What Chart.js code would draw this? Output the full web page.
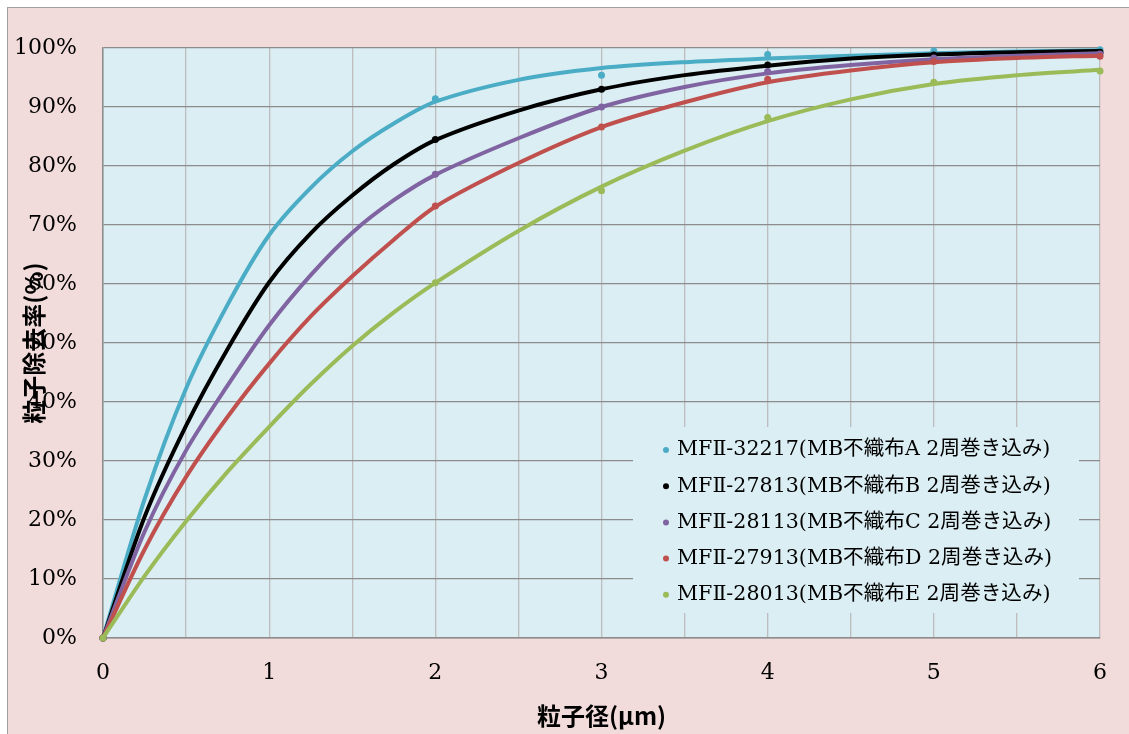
<!DOCTYPE html>
<html>
<head>
<meta charset="utf-8">
<script src="https://cdn.jsdelivr.net/npm/chart.js@4/dist/chart.umd.min.js"></script>
<style>
  body { margin: 0; background: #fff; }
  #wrap {
    position: absolute; left: 7px; top: 7px;
    width: 1121px; height: 726px;
    border-left: 1px solid #a0a0a0; border-top: 1px solid #a0a0a0;
    background: #f2dcdb;
  }
  canvas { display: block; }
</style>
</head>
<body>
<div id="wrap"><canvas id="chart1" width="1121" height="726"></canvas></div>
<script>
// particle removal rate vs particle size

const seriesNames = [
	"MFⅡ-32217(MB不織布A 2周巻き込み)",
	"MFⅡ-27813(MB不織布B 2周巻き込み)",
	"MFⅡ-28113(MB不織布C 2周巻き込み)",
	"MFⅡ-27913(MB不織布D 2周巻き込み)",
	"MFⅡ-28013(MB不織布E 2周巻き込み)"
];
const seriesColors = ["#4bacc6", "#000000", "#8064a2", "#c0504d", "#9bbb59"];

// measured points
const sizes = [0, 2, 3, 4, 5, 6];
const rateA = [0, 91.4, 95.4, 98.9, 99.5, 99.7];
const rateB = [0, 84.5, 93.0, 97.1, 98.8, 99.3];
const rateC = [0, 78.6, 90.0, 96.0, 98.3, 99.0];
const rateD = [0, 73.2, 86.6, 94.7, 97.7, 98.6];
const rateE = [0, 60.2, 75.8, 88.2, 94.2, 96.1];

// fitted curves
const curveSizes = [0, 0.25, 0.5, 0.75, 1, 1.25, 1.5, 1.75, 2, 2.5, 3, 3.5, 4, 4.5, 5, 5.5, 6];
const curveA = [0, 23.5, 42.3, 56.5, 68.3, 76.3, 82.5, 87.2, 90.9, 94.6, 96.6, 97.6, 98.2, 98.7, 99.1, 99.4, 99.6];
const curveB = [0, 20.5, 36, 49, 60.3, 68.6, 75, 80.3, 84.4, 89.4, 93.0, 95.4, 97.0, 98.2, 98.9, 99.3, 99.5];
const curveC = [0, 18, 31.8, 42.8, 53, 61.5, 68.7, 74.2, 78.5, 84.7, 90.0, 93.4, 95.7, 97.1, 98.1, 98.7, 99.1];
const curveD = [0, 15, 27.3, 37.5, 46.5, 54.5, 61.3, 67.5, 73.1, 80.5, 86.6, 90.8, 94.2, 96.2, 97.6, 98.3, 98.7];
const curveE = [0, 10.5, 19.8, 28.2, 35.8, 43, 49.5, 55.2, 60.2, 69.0, 76.5, 82.6, 87.6, 91.3, 93.9, 95.4, 96.3];

const yTicks = [0, 10, 20, 30, 40, 50, 60, 70, 80, 90, 100];
const xTicks = [0, 1, 2, 3, 4, 5, 6];

const rates = [rateA, rateB, rateC, rateD, rateE];
const curves = [curveA, curveB, curveC, curveD, curveE];

const toXY = (xs, ys) => xs.map((x, i) => ({ x: x, y: ys[i] }));

const datasets = [];
curves.forEach((c, i) => {
	datasets.push({
		label: seriesNames[i] + " curve",
		data: toXY(curveSizes, c),
		showLine: true,
		borderColor: seriesColors[i],
		backgroundColor: seriesColors[i],
		borderWidth: 4,
		borderCapStyle: 'round',
		borderJoinStyle: 'round',
		pointRadius: 0,
		tension: 0.3,
		clip: false,
		order: 5 - i
	});
});
rates.forEach((r, i) => {
	datasets.push({
		label: seriesNames[i],
		data: toXY(sizes, r),
		showLine: false,
		borderColor: seriesColors[i],
		backgroundColor: seriesColors[i],
		pointRadius: 3.5,
		pointBorderWidth: 0,
		clip: false,
		order: 5 - i
	});
});

const serif = '"DejaVu Serif", "Noto Sans CJK JP", serif';
const sansBold = '"Noto Sans CJK JP", sans-serif';

const plotBg = {
	id: 'plotBg',
	beforeDraw(chart) {
		const { ctx, chartArea: a } = chart;
		ctx.save();
		ctx.fillStyle = '#dbeef3';
		ctx.fillRect(a.left, a.top, a.right - a.left, a.bottom - a.top);
		ctx.restore();
	}
};

const boxLegend = {
	id: 'boxLegend',
	afterDraw(chart) {
		const { ctx, chartArea: a } = chart;
		const left = a.left + 530, top = a.top + 379;
		ctx.save();
		ctx.fillStyle = '#dbeef3';
		ctx.fillRect(left, top, 446, 186);
		ctx.font = '20.6px ' + serif;
		ctx.textBaseline = 'middle';
		ctx.textAlign = 'left';
		seriesNames.forEach((name, i) => {
			const y = top + 23 + i * 36.2;
			ctx.fillStyle = seriesColors[i];
			ctx.beginPath();
			ctx.arc(left + 33, y, 3, 0, Math.PI * 2);
			ctx.fill();
			ctx.fillStyle = '#000';
			ctx.fillText(name, left + 44, y);
		});
		ctx.restore();
	}
};

new Chart(document.getElementById('chart1'), {
	type: 'scatter',
	data: { datasets: datasets },
	options: {
		responsive: false,
		animation: false,
		layout: { padding: { top: 40, right: 26, left: 0, bottom: 0 } },
		plugins: {
			legend: { display: false },
			tooltip: { enabled: false }
		},
		scales: {
			x: {
				type: 'linear',
				min: 0,
				max: 6,
				afterFit: s => { s.height = 96; },
				afterBuildTicks: s => {
					const t = [];
					for (let v = 0; v <= 12; v++) t.push({ value: v / 2 });
					s.ticks = t;
				},
				ticks: {
					color: '#000',
					font: { family: serif, size: 22 },
					padding: 22,
					maxRotation: 0,
					callback: v => xTicks.includes(v) ? String(v) : ''
				},
				grid: { color: '#bdbdbd', lineWidth: 1.3, drawTicks: false },
				border: { color: '#8c8c8c', width: 1.5 },
				title: {
					display: true,
					text: '粒子径(μm)',
					color: '#000',
					font: { family: sansBold, size: 24, weight: 'bold' },
					padding: { top: 0, bottom: 4 }
				}
			},
			y: {
				min: 0,
				max: 100,
				afterFit: s => { s.width = 95; },
				afterBuildTicks: s => { s.ticks = yTicks.map(v => ({ value: v })); },
				ticks: {
					color: '#000',
					font: { family: serif, size: 22 },
					padding: 26,
					callback: v => v + '%'
				},
				grid: { color: '#8c8c8c', lineWidth: 1.3, drawTicks: false },
				border: { color: '#8c8c8c', width: 1.5 },
				title: {
					display: true,
					text: '粒子除去率(%)',
					color: '#000',
					font: { family: sansBold, size: 24, weight: 'bold' },
					padding: { top: 11, bottom: 0 }
				}
			}
		}
	},
	plugins: [plotBg, boxLegend]
});
</script>
</body>
</html>
